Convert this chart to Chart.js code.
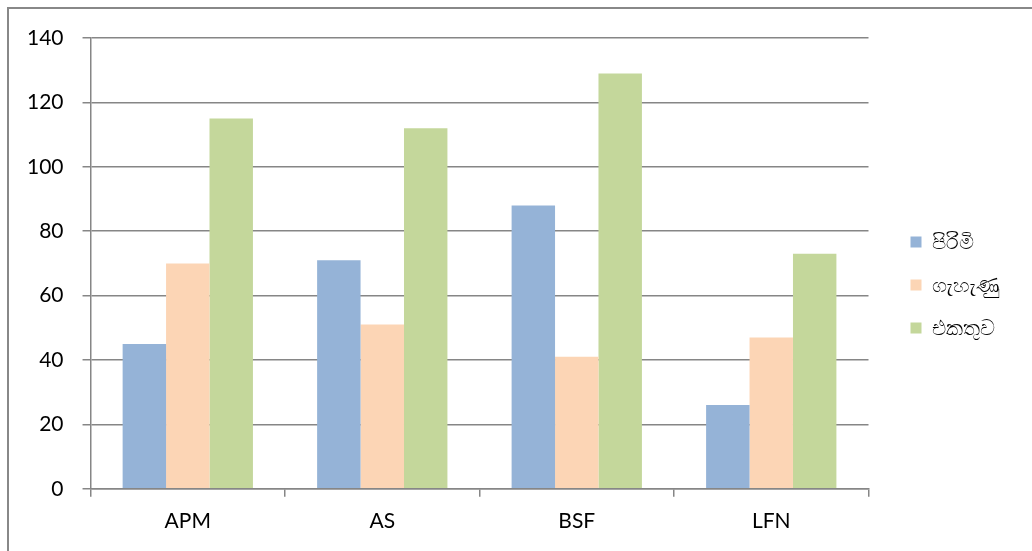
<!DOCTYPE html>
<html>
<head>
<meta charset="utf-8">
<script src="https://cdn.jsdelivr.net/npm/chart.js@4"></script>
<style>
  body { margin: 0; background: #fff; overflow: hidden; }
  #wrap { position: relative; width: 1032px; height: 551px; }
</style>
</head>
<body>
<div id="wrap"><canvas id="myChart" width="1032" height="551"></canvas></div>
<script>
// chart data
var categories = ['APM', 'AS', 'BSF', 'LFN'];
var seriesNames = ['පිරිමි', 'ගැහැණු', 'එකතුව'];
var male = [45, 71, 88, 26];
var female = [70, 51, 41, 47];
var total = [115, 112, 129, 73];
var yTicks = [0, 20, 40, 60, 80, 100, 120, 140];

var colors = ['#95B3D7', '#FCD5B5', '#C4D79B'];
var font = "Lato, 'Open Sans', sans-serif";

// outer frame like the office chart border
var framePlugin = {
    id: 'frame',
    beforeDraw: function (chart) {
        var c = chart.ctx;
        c.save();
        c.fillStyle = '#fff';
        c.fillRect(0, 0, chart.width, chart.height);
        c.strokeStyle = '#888888';
        c.lineWidth = 2;
        c.strokeRect(8, 8, chart.width + 20, chart.height + 20);
        c.restore();
    }
};

// push the legend a bit away from the plot, like the original
var legendShift = {
    id: 'legendShift',
    afterLayout: function (chart) {
        var lg = chart.legend;
        lg.left += 20;
        lg.right += 20;
        lg.top -= 7;
        lg.bottom -= 7;
    }
};

var ctx = document.getElementById('myChart').getContext('2d');
var myChart = new Chart(ctx, {
    type: 'bar',
    data: {
        labels: categories,
        datasets: [
            { label: seriesNames[0], data: male, backgroundColor: colors[0] },
            { label: seriesNames[1], data: female, backgroundColor: colors[1] },
            { label: seriesNames[2], data: total, backgroundColor: colors[2] }
        ]
    },
    options: {
        responsive: false,
        animation: false,
        devicePixelRatio: 1,
        categoryPercentage: 0.67,
        barPercentage: 1.0,
        layout: { padding: { left: 8, right: 42, top: 38, bottom: 5 } },
        plugins: {
            legend: {
                position: 'right',
                align: 'center',
                labels: {
                    boxWidth: 11,
                    boxHeight: 11,
                    padding: 22,
                    color: '#000',
                    font: { family: font, size: 21 }
                }
            },
            tooltip: { enabled: false }
        },
        scales: {
            x: {
                offset: true,
                grid: {
                    offset: true,
                    drawOnChartArea: false,
                    color: '#868686',
                    lineWidth: 1.5,
                    tickLength: 8
                },
                border: { color: '#868686', width: 1.5 },
                ticks: { color: '#000', padding: 12, maxRotation: 0, font: { family: font, size: 21 } }
            },
            y: {
                min: 0,
                max: 140,
                afterBuildTicks: function (axis) {
                    axis.ticks = yTicks.map(function (v) { return { value: v }; });
                },
                grid: { color: '#868686', lineWidth: 1.5, tickLength: 8 },
                border: { color: '#868686', width: 1.5 },
                ticks: { color: '#000', padding: 19, font: { family: font, size: 21 } }
            }
        }
    },
    plugins: [framePlugin, legendShift]
});
</script>
</body>
</html>
